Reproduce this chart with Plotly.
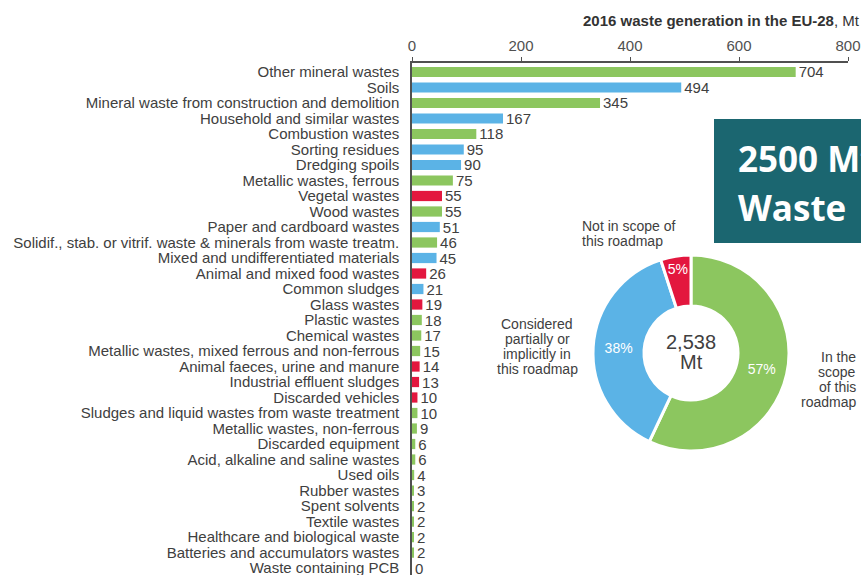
import plotly.graph_objects as go

categories = [
    "Other mineral wastes", "Soils", "Mineral waste from construction and demolition",
    "Household and similar wastes", "Combustion wastes", "Sorting residues",
    "Dredging spoils", "Metallic wastes, ferrous", "Vegetal wastes", "Wood wastes",
    "Paper and cardboard wastes",
    "Solidif., stab. or vitrif. waste & minerals from waste treatm.",
    "Mixed and undifferentiated materials", "Animal and mixed food wastes",
    "Common sludges", "Glass wastes", "Plastic wastes", "Chemical wastes",
    "Metallic wastes, mixed ferrous and non-ferrous", "Animal faeces, urine and manure",
    "Industrial effluent sludges", "Discarded vehicles",
    "Sludges and liquid wastes from waste treatment", "Metallic wastes, non-ferrous",
    "Discarded equipment", "Acid, alkaline and saline wastes", "Used oils",
    "Rubber wastes", "Spent solvents", "Textile wastes",
    "Healthcare and biological waste", "Batteries and accumulators wastes",
    "Waste containing PCB",
]
values = [704, 494, 345, 167, 118, 95, 90, 75, 55, 55, 51, 46, 45, 26, 21, 19, 18, 17,
          15, 14, 13, 10, 10, 9, 6, 6, 4, 3, 2, 2, 2, 2, 0]
scope = ["in", "partial", "in", "partial", "in", "partial", "partial", "in", "out", "in",
         "partial", "in", "partial", "out", "partial", "out", "in", "in", "in", "out",
         "out", "out", "in", "in", "in", "in", "in", "in", "in", "in", "in", "in", "in"]

donut_labels = ["In the scope of this roadmap", "Considered partially or implicitly in this roadmap",
                "Not in scope of this roadmap"]
donut_share = [57, 38, 5]
total_mt = "2,538"

GREEN, BLUE, RED = "#8CC65F", "#5BB3E6", "#E3173E"
cmap = {"in": GREEN, "partial": BLUE, "out": RED}
TXT = "#404040"

W, H = 861, 575

fig = go.Figure()
fig.add_trace(go.Bar(
    y=categories, x=values, orientation="h",
    marker=dict(color=[cmap[s] for s in scope], line=dict(width=0)),
    width=0.66,
    text=[str(v) for v in values], textposition="outside", cliponaxis=False,
    constraintext="none",
    textfont=dict(family="Liberation Sans, Arial", size=15, color=TXT),
    showlegend=False, hoverinfo="x+y",
))

cx, cy, r = 691, 353, 98
fig.add_trace(go.Pie(
    labels=donut_labels, values=donut_share, hole=0.48, sort=False,
    direction="clockwise", rotation=0,
    marker=dict(colors=[GREEN, BLUE, RED], line=dict(color="white", width=3)),
    texttemplate="%{value}%", textposition="inside", insidetextorientation="horizontal",
    textfont=dict(family="Liberation Sans, Arial", size=14, color="white"),
    domain=dict(x=[(cx - r) / W, (cx + r) / W], y=[(H - cy - r) / H, (H - cy + r) / H]),
    showlegend=False,
))

x0px, x1px, ytop = 412, 848, 63
fig.update_layout(
    width=W, height=H, margin=dict(l=0, r=0, t=0, b=0),
    paper_bgcolor="white", plot_bgcolor="white",
    font=dict(family="Liberation Sans, Arial", color=TXT),
    bargap=0.3,
    xaxis=dict(side="top", range=[0, 800], domain=[x0px / W, x1px / W],
               tickvals=[0, 200, 400, 600, 800], showgrid=False, zeroline=False,
               showline=True, linecolor="#505050", linewidth=1.5,
               ticks="outside", ticklen=4, tickcolor="#505050",
               tickfont=dict(size=15, color="#505050"), automargin=False),
    yaxis=dict(type="category", categoryorder="array", categoryarray=categories,
               tickmode="array", tickvals=categories, ticktext=categories,
               range=[32.45, -0.58], domain=[0, 1 - ytop / H], showgrid=False,
               zeroline=False, showline=True, linecolor="#505050", linewidth=1.5,
               ticks="", ticklabelstandoff=8,
               tickfont=dict(size=15, color=TXT), automargin=False),
)

ann = []
ann.append(dict(x=862 / W, y=1 - 20 / H, xref="paper", yref="paper", xanchor="right",
                yanchor="middle", showarrow=False,
                text="<b>2016 waste generation in the EU-28</b>, Mt",
                font=dict(size=15, color="#333333")))
# centre of donut
ann.append(dict(x=cx / W, y=1 - 342 / H, xref="paper", yref="paper", showarrow=False,
                xanchor="center", yanchor="middle",
                text=total_mt, font=dict(size=20, color=TXT)))
ann.append(dict(x=cx / W, y=1 - 362 / H, xref="paper", yref="paper", showarrow=False,
                xanchor="center", yanchor="middle",
                text="Mt", font=dict(size=20, color=TXT)))

def lines(texts, x, y0, step, anchor):
    for i, t in enumerate(texts):
        ann.append(dict(x=x / W, y=1 - (y0 + i * step) / H, xref="paper", yref="paper",
                        xanchor=anchor, yanchor="middle", showarrow=False, text=t,
                        font=dict(size=14, color=TXT)))

lines(["Not in scope of", "this roadmap"], 580, 226, 14.5, "left")
lines(["Considered", "partially or", "implicitly in", "this roadmap"], 537, 324, 15, "center")
lines(["In the", "scope", "of this", "roadmap"], 858, 357, 15, "right")

# teal overlay box
fig.add_shape(type="rect", xref="paper", yref="paper", x0=714 / W, x1=1.05,
              y0=1 - 243 / H, y1=1 - 119 / H, fillcolor="#1B6670", line=dict(width=0),
              layer="above")
ann.append(dict(x=736 / W, y=1 - 158 / H, xref="paper", yref="paper", xanchor="left",
                yanchor="middle", showarrow=False, text="<b>2500 Mt</b>",
                font=dict(family="Open Sans", size=35, color="white")))
ann.append(dict(x=736 / W, y=1 - 207 / H, xref="paper", yref="paper", xanchor="left",
                yanchor="middle", showarrow=False, text="<b>Waste</b>",
                font=dict(family="Open Sans", size=35, color="white")))
fig.update_layout(annotations=ann)

fig.write_html(
    "out.html",
    config={"displayModeBar": False},
    post_script="document.body.style.margin='0';document.body.style.overflow='hidden';",
)
